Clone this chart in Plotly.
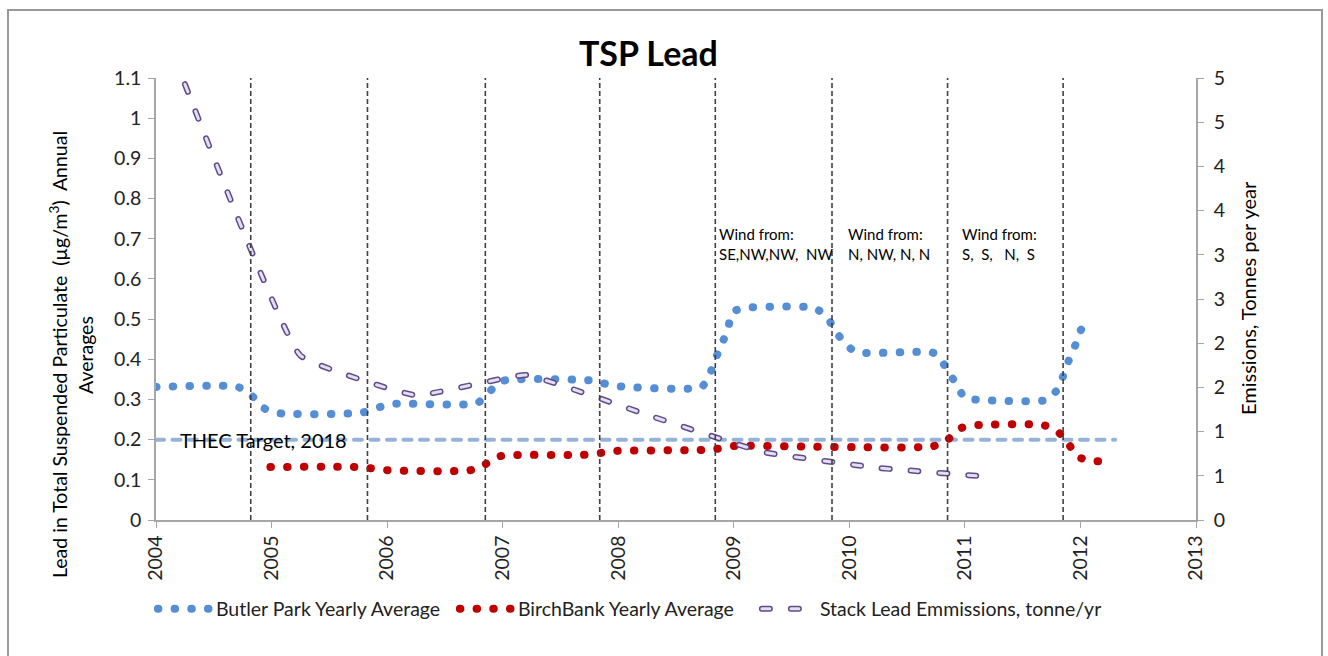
import plotly.graph_objects as go

# ---------------- data ----------------
butler_x = [2004.00, 2004.71, 2004.83, 2004.93, 2005.06, 2005.78, 2005.91, 2006.06,
            2006.78, 2006.88, 2007.00, 2007.77, 2007.86, 2008.00, 2008.72, 2008.79,
            2008.84, 2008.90, 2008.95, 2008.99, 2009.11, 2009.69, 2009.80, 2009.87,
            2009.96, 2010.06, 2010.70, 2010.77, 2010.84, 2010.92, 2011.00, 2011.13,
            2011.71, 2011.79, 2011.85, 2011.90, 2011.96, 2012.01, 2012.14]
butler_y = [0.331, 0.331, 0.309, 0.279, 0.266, 0.267, 0.279, 0.289,
            0.291, 0.318, 0.346, 0.347, 0.341, 0.333, 0.331, 0.361,
            0.400, 0.440, 0.478, 0.518, 0.528, 0.528, 0.508, 0.475,
            0.440, 0.418, 0.418, 0.410, 0.376, 0.341, 0.304, 0.299,
            0.299, 0.321, 0.358, 0.398, 0.438, 0.475, 0.480]

birch_x = [2004.99, 2005.71, 2005.85, 2006.00, 2006.72, 2006.85, 2006.98, 2007.12,
           2007.69, 2007.85, 2007.99, 2008.70, 2008.85, 2009.00, 2010.73, 2010.85,
           2010.97, 2011.10, 2011.68, 2011.80, 2011.89, 2011.98, 2012.11, 2012.25]
birch_y = [0.132, 0.132, 0.129, 0.124, 0.124, 0.139, 0.159, 0.162,
           0.162, 0.167, 0.172, 0.174, 0.177, 0.184, 0.184, 0.200,
           0.229, 0.236, 0.236, 0.221, 0.192, 0.157, 0.147, 0.147]

emission_x = [2004.25, 2005.25, 2006.25, 2007.20, 2008.25, 2009.25, 2010.25, 2011.20]
emission_y = [4.93, 1.86, 1.41, 1.64, 1.19, 0.77, 0.59, 0.49]

target_x = [2004.0, 2012.30]
target_y = [0.2, 0.2]

year_boundaries = [2004.82, 2005.83, 2006.85, 2007.84, 2008.84, 2009.85, 2010.85, 2011.85]

wind_x = [2008.853, 2009.969, 2010.955]
wind_text = ["Wind from:<br>SE,NW,NW,\u00a0 NW",
             "Wind from:<br>N, NW, N, N",
             "Wind from:<br>S,\u00a0 S,\u00a0\u00a0 N,\u00a0 S"]

left_ticks = [0, 0.1, 0.2, 0.3, 0.4, 0.5, 0.6, 0.7, 0.8, 0.9, 1, 1.1]
right_tickvals = [0, 0.5, 1, 1.5, 2, 2.5, 3, 3.5, 4, 4.5, 5]
right_ticktext = ["0", "1", "1", "2", "2", "3", "3", "4", "4", "5", "5"]
x_ticks = list(range(2004, 2014))

# ---------------- figure ----------------
FONT = "Lato, 'Open Sans', sans-serif"
TXT = "#222222"
AX = "#A6A6A6"
TICK_SIZE = 19.5

fig = go.Figure()

fig.add_trace(go.Scatter(
    x=target_x, y=target_y, mode="lines", showlegend=False, hoverinfo="skip",
    line=dict(color="#95B3D7", width=4, dash="8px,8.5px")))

fig.add_trace(go.Scatter(
    x=butler_x, y=butler_y, mode="lines", name="Butler Park Yearly Average",
    line=dict(color="#558ED5", width=8, dash="0.5px,16.2px", shape="spline", smoothing=0.6)))

fig.add_trace(go.Scatter(
    x=birch_x, y=birch_y, mode="lines", name="BirchBank Yearly Average",
    line=dict(color="#C00000", width=8, dash="0.5px,16.2px", shape="spline", smoothing=0.6)))

fig.add_trace(go.Scatter(
    x=emission_x, y=emission_y, mode="lines", yaxis="y2",
    name="Stack Lead Emmissions, tonne/yr",
    line=dict(color="#5F4A8B", width=6, dash="8px,21px", shape="spline", smoothing=0.3)))
fig.add_trace(go.Scatter(
    x=emission_x, y=emission_y, mode="lines", yaxis="y2", showlegend=False, hoverinfo="skip",
    line=dict(color="#E4DFEE", width=3, dash="8px,21px", shape="spline", smoothing=0.3)))

shapes = []
for xb in year_boundaries:
    shapes.append(dict(type="line", xref="x", yref="y", x0=xb, x1=xb, y0=0, y1=1.1,
                       line=dict(color="#404040", width=1.6, dash="5px,3px"), layer="above"))
# chart-area border (Excel chart object frame)
shapes.append(dict(type="rect", xref="paper", yref="paper",
                   x0=(8 - 156) / 1040, x1=(1322 - 156) / 1040,
                   y0=(520 - 670) / 442, y1=(520 - 10) / 442,
                   line=dict(color="#9A9A9A", width=2), layer="below"))

annotations = [
    dict(text="<b>TSP Lead</b>", xref="paper", yref="paper",
         x=(648 - 156) / 1040, y=(520 - 53) / 442, showarrow=False,
         xanchor="center", yanchor="middle", font=dict(family=FONT, size=34, color="#000")),
    dict(text="Lead in Total Suspended Particulate\u00a0 (\u00b5g/m<sup>3</sup>)\u00a0 Annual",
         xref="paper", yref="paper", x=(58 - 156) / 1040, y=(520 - 355) / 442,
         textangle=-90, showarrow=False, xanchor="center", yanchor="middle",
         font=dict(family=FONT, size=19.5, color="#000")),
    dict(text="Averages", xref="paper", yref="paper", x=(85 - 156) / 1040, y=(520 - 355) / 442,
         textangle=-90, showarrow=False, xanchor="center", yanchor="middle",
         font=dict(family=FONT, size=19.5, color="#000")),
    dict(text="Emissions, Tonnes per year", xref="paper", yref="paper",
         x=(1248 - 156) / 1040, y=(520 - 298) / 442, textangle=-90, showarrow=False,
         xanchor="center", yanchor="middle", font=dict(family=FONT, size=20, color="#000")),
    dict(text="THEC Target, 2018", xref="x", yref="y", x=2004.19, y=0.199, showarrow=False,
         xanchor="left", yanchor="middle", font=dict(family=FONT, size=20, color="#000")),
]
for wx, wt in zip(wind_x, wind_text):
    annotations.append(dict(text=wt, xref="x", yref="y", x=wx, y=0.687, showarrow=False,
                            xanchor="left", yanchor="middle", align="left",
                            font=dict(family=FONT, size=15, color="#000")))

fig.update_layout(
    width=1328, height=656,
    margin=dict(l=156, r=132, t=78, b=136),
    paper_bgcolor="white", plot_bgcolor="white",
    font=dict(family=FONT, size=19.5, color=TXT),
    xaxis=dict(range=[2004, 2013], tickvals=x_ticks, tickangle=-90,
               showgrid=False, zeroline=False, showline=True, linecolor=AX, linewidth=1.5,
               ticks="outside", ticklen=6, tickcolor=AX,
               tickfont=dict(size=TICK_SIZE, color=TXT)),
    yaxis=dict(range=[0, 1.1], tickvals=left_ticks, showgrid=False, zeroline=False,
               showline=True, linecolor=AX, linewidth=1.5, ticks="outside", ticklen=6,
               tickcolor=AX, tickfont=dict(size=TICK_SIZE, color=TXT), ticklabelstandoff=3),
    yaxis2=dict(range=[0, 5], overlaying="y", side="right", tickvals=right_tickvals,
                ticktext=right_ticktext, showgrid=False, zeroline=False, showline=True,
                linecolor=AX, linewidth=1.5, ticks="outside", ticklen=6, tickcolor=AX,
                tickfont=dict(size=TICK_SIZE, color=TXT), ticklabelstandoff=6),
    legend=dict(orientation="h", x=-0.003, xanchor="left", y=(520 - 609) / 442,
                yanchor="middle", font=dict(family=FONT, size=19.5, color=TXT),
                bgcolor="rgba(0,0,0,0)", entrywidth=257, entrywidthmode="pixels"),
    shapes=shapes, annotations=annotations,
    showlegend=True,
)

post = """
document.body.style.margin = '0';
var gd = document.getElementById('{plot_id}');
function styleLines(){
  gd.querySelectorAll('path.js-line, .legendlines path').forEach(function(p){
    p.style.strokeLinecap = 'round';
  });
  gd.querySelectorAll('.legend [clip-path]').forEach(function(e){
    e.removeAttribute('clip-path');
  });
  gd.querySelectorAll('.legend .traces').forEach(function(t){
    var p = t.querySelector('.legendlines path');
    if (p && !p.dataset.wide) {
      p.setAttribute('d', 'M5,0h52');
      p.dataset.wide = '1';
      var txt = t.querySelector('text.legendtext');
      if (txt && txt.textContent.indexOf('Stack') >= 0) {
        var inner = p.cloneNode(true);
        inner.style.stroke = '#E4DFEE';
        inner.style.strokeWidth = '3px';
        p.parentNode.appendChild(inner);
      }
    }
    var tx = t.querySelector('text.legendtext');
    if (tx) { tx.setAttribute('x', 63); }
  });
}
styleLines();
if (gd.on) { gd.on('plotly_afterplot', styleLines); }
"""

fig.write_html("out.html", post_script=post, config={"displayModeBar": False})
